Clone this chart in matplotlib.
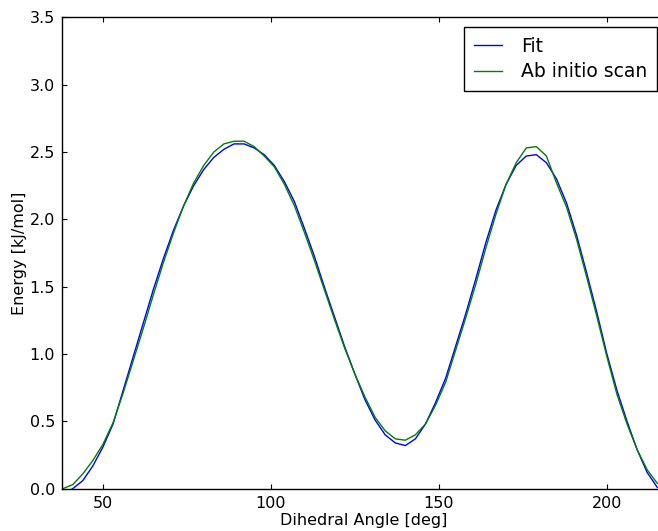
import matplotlib
matplotlib.use("Agg")
import matplotlib.pyplot as plt

# dihedral angles of the scan (3 deg steps)
angles = [38, 41, 44, 47, 50, 53, 56, 59, 62, 65, 68, 71, 74, 77, 80, 83, 86, 89,
          92, 95, 98, 101, 104, 107, 110, 113, 116, 119, 122, 125, 128, 131, 134,
          137, 140, 143, 146, 149, 152, 155, 158, 161, 164, 167, 170, 173, 176,
          179, 182, 185, 188, 191, 194, 197, 200, 203, 206, 209, 212, 215]

# fitted energy profile
fit_energy = [-0.04, 0.00, 0.06, 0.17, 0.31, 0.48, 0.73, 0.98, 1.23, 1.48, 1.71,
              1.92, 2.10, 2.25, 2.37, 2.46, 2.52, 2.56, 2.56, 2.53, 2.48, 2.40,
              2.28, 2.13, 1.93, 1.72, 1.49, 1.27, 1.05, 0.85, 0.66, 0.51, 0.40,
              0.34, 0.32, 0.37, 0.48, 0.64, 0.82, 1.06, 1.30, 1.56, 1.83, 2.07,
              2.26, 2.40, 2.47, 2.48, 2.42, 2.30, 2.12, 1.88, 1.60, 1.31, 1.00,
              0.73, 0.50, 0.29, 0.12, 0.01]

# ab initio scan energies
scan_energy = [0.00, 0.03, 0.11, 0.21, 0.33, 0.49, 0.71, 0.95, 1.19, 1.44, 1.68,
               1.90, 2.10, 2.27, 2.40, 2.50, 2.56, 2.58, 2.58, 2.54, 2.47, 2.39,
               2.26, 2.10, 1.90, 1.69, 1.47, 1.25, 1.04, 0.85, 0.68, 0.53, 0.43,
               0.37, 0.36, 0.40, 0.48, 0.62, 0.79, 1.03, 1.27, 1.52, 1.79, 2.04,
               2.26, 2.42, 2.53, 2.54, 2.47, 2.27, 2.09, 1.85, 1.57, 1.28, 0.98,
               0.70, 0.48, 0.29, 0.14, 0.04]

plt.rcParams["font.family"] = "DejaVu Sans"
plt.rcParams["font.size"] = 11.5

fig = plt.figure(figsize=(6.58, 5.31), dpi=100, facecolor="white")
ax = fig.add_axes([62 / 658, 0.0797, 603 / 658, 0.8877])

ax.plot(angles, fit_energy, color="#0000ff", linewidth=1.0, label="Fit")
ax.plot(angles, scan_energy, color="#008000", linewidth=1.0, label="Ab initio scan")

ax.set_xlim(37.8, 217.3)
ax.set_ylim(0, 3.5)
ax.set_xticks([50, 100, 150, 200])
ax.set_yticks([0.0, 0.5, 1.0, 1.5, 2.0, 2.5, 3.0, 3.5])
ax.tick_params(direction="in", length=3.5, width=0.8, top=True, right=True,
               pad=5, labelsize=11.5, colors="black")
for sp in ax.spines.values():
    sp.set_linewidth(1.0)
    sp.set_color("black")

ax.set_xlabel("Dihedral Angle [deg]", fontsize=11.5, labelpad=2)
ax.set_ylabel("Energy [kJ/mol]", fontsize=11.5, labelpad=2)

leg = ax.legend(loc="upper right", bbox_to_anchor=(657 / 658, 0.9486),
                bbox_transform=fig.transFigure, borderaxespad=0, fontsize=13.5,
                fancybox=False, framealpha=1, edgecolor="black",
                handlelength=1.5, handletextpad=1.05, borderpad=0.5,
                labelspacing=0.35)
leg.get_frame().set_linewidth(1.0)

fig.savefig("out.png", dpi=100, facecolor="white")
